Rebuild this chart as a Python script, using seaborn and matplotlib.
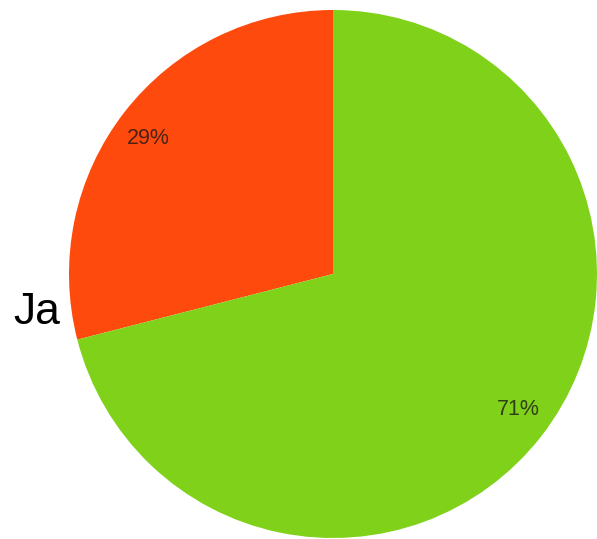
import matplotlib
matplotlib.use("Agg")
import matplotlib.pyplot as plt
import numpy as np
import seaborn as sns

sns.set_theme(style="white")
plt.rcParams["font.family"] = ["Liberation Sans", "DejaVu Sans"]

# Share of answers
categories = ["Ja", "Nein"]
shares = [29, 71]
colors = ["#FF4A0D", "#80D11A"]

fig = plt.figure(figsize=(5.97, 5.39), dpi=100)
fig.patch.set_facecolor("white")

# Pie occupies a square region, slightly shifted to the right
W, H = 597, 539
cx, cy, r = 333, 274, 264
ax = fig.add_axes([(cx - r) / W, (H - cy - r) / H, 2 * r / W, 2 * r / H])

wedges, texts, autotexts = ax.pie(
    shares,
    colors=colors,
    startangle=90,
    counterclock=True,
    autopct="%d%%",
    pctdistance=0.87,
    wedgeprops=dict(linewidth=0),
    textprops=dict(fontsize=15.5, color="#1a1a1a", alpha=0.8),
)

# Percentage labels sit slightly counter-clockwise of each wedge's middle
for w, t in zip(wedges, autotexts):
    ang = np.deg2rad((w.theta1 + w.theta2) / 2 + 1.5)
    t.set_position((0.87 * np.cos(ang), 0.87 * np.sin(ang)))

ax.set_xlim(-1, 1)
ax.set_ylim(-1, 1)
ax.set_aspect("equal")
ax.axis("off")

# Category label placed to the left of the pie
fig.text(13 / W, 1 - 312 / H, categories[0], fontsize=32, color="black",
         ha="left", va="center")

fig.savefig("out.png", dpi=100, facecolor="white")
